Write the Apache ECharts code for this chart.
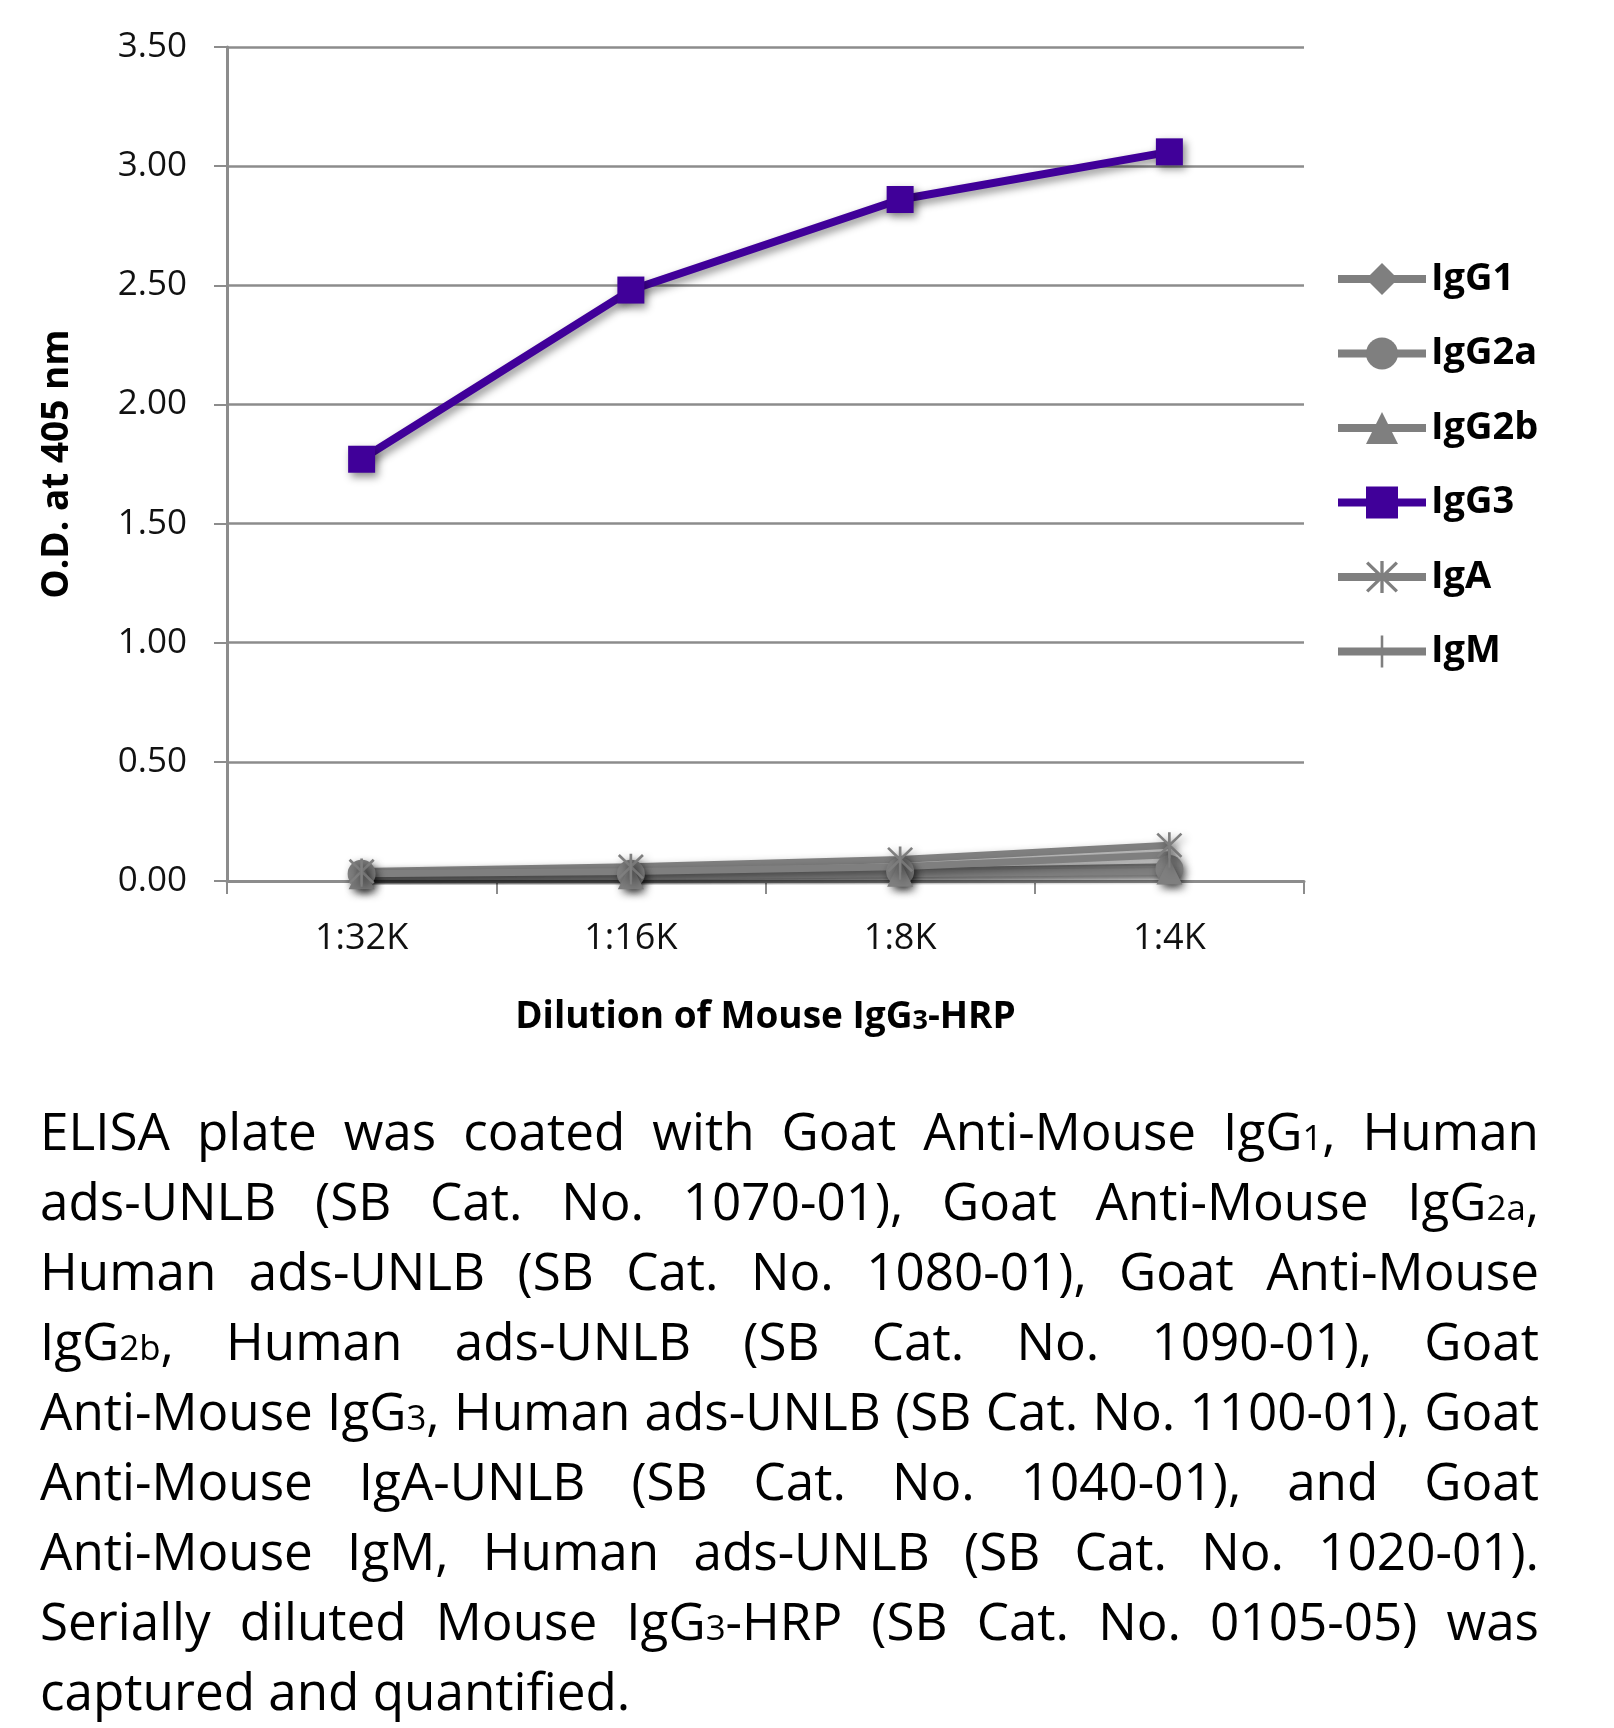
<!DOCTYPE html>
<html>
<head>
<meta charset="utf-8">
<script src="https://cdn.jsdelivr.net/npm/echarts@6/dist/echarts.min.js"></script>
<style>
html,body{margin:0;padding:0;background:#fff;}
#chart{position:absolute;left:0;top:0;width:1614px;height:1728px;}
#caption{position:absolute;left:40px;width:1499px;font-family:"Open Sans",sans-serif;color:#000;line-height:70px;}
#caption .ln{white-space:nowrap;height:70px;overflow:visible;text-align:justify;text-align-last:justify;}
#caption .ln.last{text-align-last:left;}
#caption small{font-size:0.68em;line-height:0;vertical-align:baseline;}
</style>
</head>
<body>
<div id="chart"></div>
<div id="caption"></div>
<script>
// ---- data ----
const categories = ['1:32K', '1:16K', '1:8K', '1:4K'];
const seriesNames = ['IgG1', 'IgG2a', 'IgG2b', 'IgG3', 'IgA', 'IgM'];
const IgG1  = [0.02, 0.03, 0.04, 0.06];
const IgG2a = [0.03, 0.03, 0.04, 0.05];
const IgG2b = [0.02, 0.02, 0.03, 0.04];
const IgG3  = [1.77, 2.48, 2.86, 3.06];
const IgA   = [0.04, 0.06, 0.09, 0.15];
const IgM   = [0.03, 0.04, 0.06, 0.11];
const yTicks = {min: 0, max: 3.5, interval: 0.5};
const yTitle = 'O.D. at 405 nm';
const captionLines = [
  'ELISA plate was coated with Goat Anti-Mouse IgG<small>1</small>, Human',
  'ads-UNLB (SB Cat. No. 1070-01), Goat Anti-Mouse IgG<small>2a</small>,',
  'Human ads-UNLB (SB Cat. No. 1080-01), Goat Anti-Mouse',
  'IgG<small>2b</small>, Human ads-UNLB (SB Cat. No. 1090-01), Goat',
  'Anti-Mouse IgG<small>3</small>, Human ads-UNLB (SB Cat. No. 1100-01), Goat',
  'Anti-Mouse IgA-UNLB (SB Cat. No. 1040-01), and Goat',
  'Anti-Mouse IgM, Human ads-UNLB (SB Cat. No. 1020-01).',
  'Serially diluted Mouse IgG<small>3</small>-HRP (SB Cat. No. 0105-05) was',
  'captured and quantified.'
];

// ---- caption ----
const cap = document.getElementById('caption');
const probe = document.createElement('span');
probe.style.cssText = 'position:absolute;visibility:hidden;white-space:nowrap;font-family:"Open Sans",sans-serif;font-size:50px;';
document.body.appendChild(probe);
let maxW = 0;
captionLines.forEach(function(l){ probe.innerHTML = l; maxW = Math.max(maxW, probe.getBoundingClientRect().width); });
document.body.removeChild(probe);
const capFont = Math.min(54, 50 * 1496 / maxW);
cap.style.fontSize = capFont + 'px';
const baseline1 = 1150;
cap.style.top = (baseline1 - ((70 - 1.362 * capFont) / 2 + 1.069 * capFont)) + 'px';
captionLines.forEach(function(l, i){
  const d = document.createElement('div');
  d.className = 'ln' + (i === captionLines.length - 1 ? ' last' : '');
  d.innerHTML = l;
  cap.appendChild(d);
});

// ---- chart ----
const GRAY = '#7f7f7f';
const PURPLE = '#400099';
const FONT = '"Open Sans", sans-serif';
const shadowL = {shadowColor: 'rgba(0,0,0,0.45)', shadowBlur: 8, shadowOffsetX: 3, shadowOffsetY: 4};
const noShadow = {shadowBlur: 0, shadowColor: 'transparent', shadowOffsetX: 0, shadowOffsetY: 0};
const asterisk = 'path://M9 0L11 0L11 20L9 20Z M0.3 1.7L1.7 0.3L19.7 18.3L18.3 19.7Z M18.3 0.3L19.7 1.7L1.7 19.7L0.3 18.3Z';
const vbar = 'path://M9.2 0L10.8 0L10.8 20L9.2 20Z M0 10L0.01 10L0.01 10.01Z M20 10L19.99 10L19.99 10.01Z';

function mkSeries(name, data, color, symbol, size, width) {
  return {
    name: name, type: 'line', data: data,
    symbol: symbol, symbolSize: size,
    lineStyle: Object.assign({color: color, width: width}, shadowL),
    itemStyle: Object.assign({color: color}, shadowL),
    emphasis: {disabled: true},
    z: name === 'IgG3' ? 3 : 2
  };
}

const chart = echarts.init(document.getElementById('chart'), null, {renderer: 'canvas'});
chart.setOption({
  animation: false,
  backgroundColor: '#fff',
  textStyle: {fontFamily: FONT},
  grid: {left: 227, right: 310, top: 47, bottom: 847, containLabel: false},
  legend: {
    orient: 'vertical', left: 1329, top: 254,
    itemWidth: 88, itemHeight: 40, itemGap: 34.5,
    data: seriesNames,
    textStyle: {fontFamily: FONT, fontWeight: 'bold', fontSize: 38, lineHeight: 40, color: '#000'},
    itemStyle: noShadow,
    lineStyle: Object.assign({width: 8}, noShadow)
  },
  xAxis: {
    type: 'category', data: categories, boundaryGap: true,
    axisLine: {lineStyle: {color: '#8c8c8c', width: 3}},
    axisTick: {show: true, length: 13, lineStyle: {color: '#8c8c8c', width: 2}},
    axisLabel: {fontSize: 36, color: '#111', margin: 40, fontFamily: FONT},
    name: '{a|Dilution of Mouse IgG}{s|3}{a|-HRP}',
    nameLocation: 'middle', nameGap: 118,
    nameTextStyle: {rich: {
      a: {fontFamily: FONT, fontWeight: 'bold', fontSize: 37, color: '#000'},
      s: {fontFamily: FONT, fontWeight: 'bold', fontSize: 27, color: '#000', padding: [8, 0, 0, 0]}
    }}
  },
  yAxis: {
    type: 'value', min: yTicks.min, max: yTicks.max, interval: yTicks.interval,
    axisLine: {show: true, lineStyle: {color: '#8c8c8c', width: 3}},
    axisTick: {show: true, length: 13, lineStyle: {color: '#8c8c8c', width: 2}},
    splitLine: {show: true, lineStyle: {color: '#8c8c8c', width: 2.5}},
    axisLabel: {fontSize: 35, color: '#111', margin: 40, fontFamily: FONT,
      formatter: function(v){ return v.toFixed(2); }},
    name: yTitle, nameLocation: 'middle', nameGap: 151,
    nameTextStyle: {fontFamily: FONT, fontWeight: 'bold', fontSize: 37, color: '#000'}
  },
  series: [
    mkSeries('IgG1', IgG1, GRAY, 'diamond', 26, 7),
    mkSeries('IgG2a', IgG2a, GRAY, 'circle', 28, 7),
    mkSeries('IgG2b', IgG2b, GRAY, 'triangle', 26, 7),
    mkSeries('IgG3', IgG3, PURPLE, 'rect', 27, 8),
    mkSeries('IgA', IgA, GRAY, asterisk, 26, 7),
    mkSeries('IgM', IgM, GRAY, vbar, 26, 7)
  ]
});
</script>
</body>
</html>
